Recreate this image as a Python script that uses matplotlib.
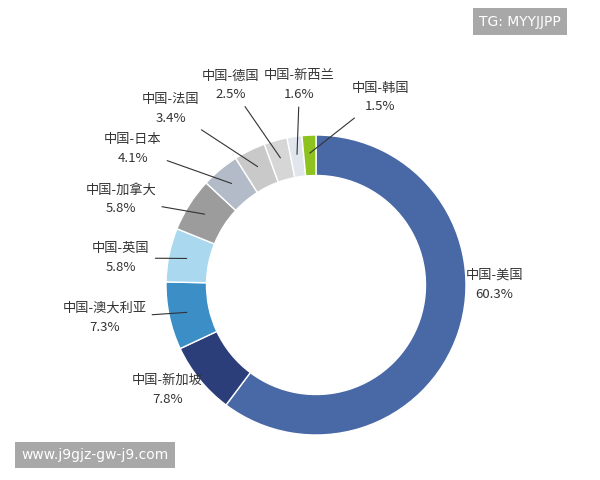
import numpy as np
import matplotlib.pyplot as plt

plt.rcParams['font.family'] = ['Noto Sans CJK SC', 'DejaVu Sans']

names = ['中国-美国', '中国-新加坡', '中国-澳大利亚', '中国-英国', '中国-加拿大',
         '中国-日本', '中国-法国', '中国-德国', '中国-新西兰', '中国-韩国']
shares = [60.3, 7.8, 7.3, 5.8, 5.8, 4.1, 3.4, 2.5, 1.6, 1.5]
colors = ['#4868a6', '#2c3e7a', '#3b8ec6', '#aad9ef', '#9c9c9c',
          '#b3bac8', '#c9c9c9', '#d6d6d6', '#e1e5ec', '#8dc21f']

# label centres (data units, pie radius 1) and whether a leader line is drawn
label_pos = [(1.19, 0.0), (-0.99, -0.70), (-1.41, -0.22), (-1.30, 0.18),
             (-1.30, 0.57), (-1.22, 0.91), (-0.97, 1.17), (-0.57, 1.33),
             (-0.11, 1.33), (0.43, 1.25)]
use_line = [False, False] + [True] * 8

fig = plt.figure(figsize=(6, 4.8), dpi=100)
# 1 unit = 150 px, pie centre at (316, 285) px from top-left
ax = fig.add_axes([(316 - 300) / 600, (480 - 285 - 300) / 480, 600 / 600, 600 / 480])

wedges, _ = ax.pie(shares, colors=colors, startangle=90, counterclock=False,
                   radius=1.0, wedgeprops=dict(width=0.27, edgecolor='white', linewidth=1))
ax.set_xlim(-2, 2)
ax.set_ylim(-2, 2)
ax.axis('off')

for w, name, s, pos, ln in zip(wedges, names, shares, label_pos, use_line):
    ang = np.deg2rad((w.theta1 + w.theta2) / 2)
    txt = f'{name}\n{s}%'
    if ln:
        xy = (0.88 * np.cos(ang), 0.88 * np.sin(ang))
        ax.annotate(txt, xy=xy, xytext=pos, ha='center', va='center',
                    fontsize=9.5, color='#333333', linespacing=1.6,
                    arrowprops=dict(arrowstyle='-', color='#333333', lw=0.8,
                                    shrinkA=2, shrinkB=0))
    else:
        ax.text(pos[0], pos[1], txt, ha='center', va='center',
                fontsize=9.5, color='#333333', linespacing=1.6)

fig.text(0.935, 0.955, 'TG: MYYJJPP', ha='right', va='center', fontsize=10,
         color='white', family='DejaVu Sans',
         bbox=dict(boxstyle='square,pad=0.45', fc='#a8a8a8', ec='none'))
fig.text(0.035, 0.052, 'www.j9gjz-gw-j9.com', ha='left', va='center', fontsize=10,
         color='white', family='DejaVu Sans',
         bbox=dict(boxstyle='square,pad=0.45', fc='#a8a8a8', ec='none'))

fig.savefig('out.png', dpi=100)
